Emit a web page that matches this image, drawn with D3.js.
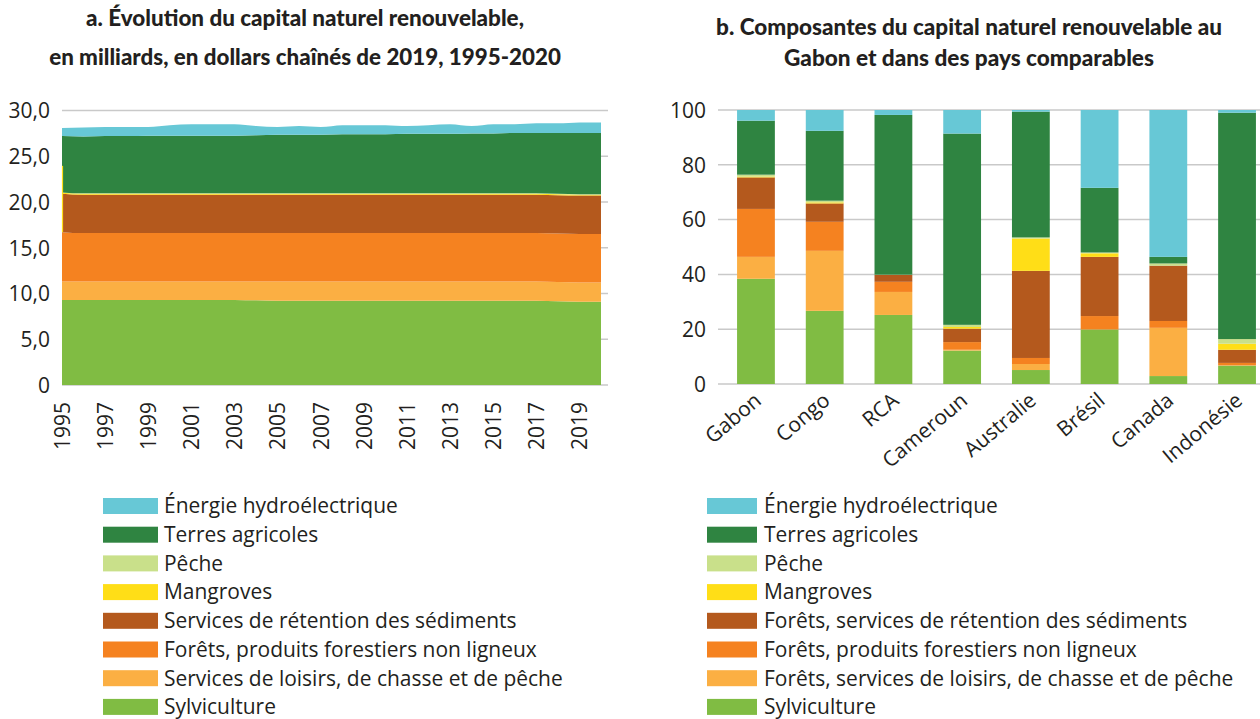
<!DOCTYPE html>
<html><head><meta charset="utf-8">
<script src="https://cdn.jsdelivr.net/npm/d3@7"></script>
<style>
html,body{margin:0;padding:0;background:#fff;}
svg{display:block;}
text{fill:#231f20;}
</style></head>
<body>
<svg id="c" width="1260" height="719"></svg>
<script>
// ---------- DATA ----------
const seriesNames = ["Sylviculture","Loisirs","PFNL","Sediments","Mangroves","Peche","Agricoles","Hydro"];
const seriesColors = ["#80bc43","#fbaf43","#f58220","#b4591d","#ffde17","#c9e08a","#2f8441","#67c8d6"];

const legendA = ["Énergie hydroélectrique","Terres agricoles","Pêche","Mangroves","Services de rétention des sédiments","Forêts, produits forestiers non ligneux","Services de loisirs, de chasse et de pêche","Sylviculture"];
const legendB = ["Énergie hydroélectrique","Terres agricoles","Pêche","Mangroves","Forêts, services de rétention des sédiments","Forêts, produits forestiers non ligneux","Forêts, services de loisirs, de chasse et de pêche","Sylviculture"];

const years = [1995,1996,1997,1998,1999,2000,2001,2002,2003,2004,2005,2006,2007,2008,2009,2010,2011,2012,2013,2014,2015,2016,2017,2018,2019,2020];
const yearTicks = [1995,1997,1999,2001,2003,2005,2007,2009,2011,2013,2015,2017,2019];
const aSylv  = [9.3,9.3,9.3,9.3,9.3,9.3,9.3,9.3,9.3,9.25,9.2,9.2,9.2,9.2,9.2,9.2,9.2,9.2,9.2,9.2,9.2,9.2,9.2,9.15,9.1,9.1];
const aLois  = [2.0,2.0,2.0,2.0,2.0,2.0,2.0,2.0,2.0,2.05,2.1,2.1,2.1,2.1,2.1,2.1,2.1,2.1,2.1,2.1,2.1,2.1,2.1,2.1,2.1,2.1];
const aPfnl  = [5.4,5.3,5.3,5.3,5.3,5.3,5.3,5.3,5.3,5.3,5.3,5.3,5.3,5.3,5.3,5.3,5.3,5.3,5.3,5.3,5.3,5.3,5.3,5.3,5.3,5.3];
const aSed   = [4.2,4.2,4.2,4.2,4.2,4.2,4.2,4.2,4.2,4.2,4.2,4.2,4.2,4.2,4.2,4.2,4.2,4.2,4.2,4.2,4.2,4.2,4.2,4.2,4.2,4.2];
const aMang  = [0.1,0.1,0.1,0.1,0.1,0.1,0.1,0.1,0.1,0.1,0.1,0.1,0.1,0.1,0.1,0.1,0.1,0.1,0.1,0.1,0.1,0.1,0.1,0.1,0.1,0.1];
const aPeche = [0.05,0.05,0.05,0.05,0.05,0.05,0.05,0.05,0.05,0.05,0.05,0.05,0.05,0.05,0.05,0.05,0.05,0.05,0.05,0.05,0.05,0.05,0.05,0.05,0.05,0.05];
const aAgri  = [6.15,6.2,6.25,6.25,6.3,6.3,6.3,6.3,6.3,6.35,6.4,6.4,6.4,6.45,6.45,6.45,6.5,6.5,6.5,6.55,6.55,6.6,6.6,6.65,6.7,6.7];
const aHydro = [0.9,1.0,1.0,1.0,0.95,1.15,1.25,1.25,1.25,1.0,0.85,0.95,0.85,1.0,1.0,1.0,0.85,0.95,1.05,0.8,1.0,0.95,1.05,1.05,1.15,1.15];
const aTicks = [0,5,10,15,20,25,30];

const countries = ["Gabon","Congo","RCA","Cameroun","Australie","Brésil","Canada","Indonésie"];
const bSylv  = [38.4,26.7,25.2,12.2,5.1,19.9,2.9,6.7];
const bLois  = [8.0,21.9,8.4,0.3,2.2,0.0,17.6,0.1];
const bPfnl  = [17.5,10.6,3.7,2.8,2.2,4.9,2.5,0.9];
const bSed   = [11.5,6.7,2.5,4.9,31.8,21.6,20.2,4.8];
const bMang  = [0.3,0.4,0.0,0.6,11.8,1.3,0.0,2.2];
const bPeche = [0.7,0.6,0.1,0.8,0.4,0.3,0.8,1.7];
const bAgri  = [19.7,25.5,58.3,69.8,45.9,23.6,2.4,82.6];
const bHydro = [3.9,7.6,1.8,8.6,0.6,28.4,53.6,1.0];
const bTicks = [0,20,40,60,80,100];

// ---------- DRAW ----------
const svg = d3.select("#c");
const bodyFont = "'Open Sans', 'Noto Sans', sans-serif";
const titleFont = "Lato, 'Open Sans', sans-serif";
const gridCol = "#c9c9c9";

function fitFont(sel, target){
  const n = sel.node(); const w = n.getComputedTextLength();
  const fs = parseFloat(sel.attr("font-size"));
  sel.attr("font-size", fs*target/w);
}

// Titles
function title(lines, cx, ys, widths){
  lines.forEach((t,i)=>{
    const s = svg.append("text").attr("x",cx).attr("y",ys[i]).attr("text-anchor","middle")
      .attr("font-family",titleFont).attr("font-weight",900).attr("font-size",20).text(t);
    fitFont(s, widths[i]);
  });
}
title(["a. Évolution du capital naturel renouvelable,","en milliards, en dollars chaînés de 2019, 1995-2020"],305,[26,65],[438,512]);
title(["b. Composantes du capital naturel renouvelable au","Gabon et dans des pays comparables"],969,[35,66],[506,370]);

// ----- Chart a -----
const xa = d3.scaleLinear().domain([1995,2020]).range([62,601]);
const ya = d3.scaleLinear().domain([0,30]).range([385,110.5]);
const aSeries = [aSylv,aLois,aPfnl,aSed,aMang,aPeche,aAgri,aHydro];
const aRows = years.map((y,i)=>{const o={year:y}; seriesNames.forEach((n,k)=>o[n]=aSeries[k][i]); return o;});
const aStack = d3.stack().keys(seriesNames)(aRows);

const ga = svg.append("g");
ga.append("g").selectAll("line").data(aTicks).join("line")
  .attr("x1",62).attr("x2",608).attr("y1",d=>ya(d)).attr("y2",d=>ya(d))
  .attr("stroke",gridCol).attr("stroke-width",1.5);
const area = d3.area().x(d=>xa(d.data.year)).y0(d=>ya(d[0])).y1(d=>ya(d[1])).curve(d3.curveMonotoneX);
ga.append("g").selectAll("path").data(aStack).join("path")
  .attr("d",area).attr("fill",(d,i)=>seriesColors[i]);
// yellow edge at left (mangrove layer marker)
ga.append("line").attr("x1",xa(1995)+0.5).attr("x2",xa(1995)+0.5)
  .attr("y1",ya(aStack[2][0][1])).attr("y2",ya(aStack[6][0][0]+2.9))
  .attr("stroke",seriesColors[4]).attr("stroke-width",1.2);

const yAxA = d3.axisLeft(ya).tickValues(aTicks).tickSize(0).tickPadding(0)
  .tickFormat(d=> d===0 ? "0" : d3.format(".1f")(d).replace(".",","));
const gya = svg.append("g").attr("transform","translate(50,0)").call(yAxA);
gya.select(".domain").remove();
gya.selectAll("text").attr("font-family",bodyFont).attr("font-size",19.5).attr("fill","#231f20").attr("dy","0.35em");

const xAxA = d3.axisBottom(xa).tickValues(yearTicks).tickSize(0).tickFormat(d3.format("d"));
const gxa = svg.append("g").attr("transform","translate(0,396)").call(xAxA);
gxa.select(".domain").remove();
gxa.selectAll("text").attr("font-family",bodyFont).attr("font-size",19.5).attr("fill","#231f20")
  .attr("transform","rotate(-90)").attr("text-anchor","end").attr("x",-6).attr("y",0).attr("dy","0.35em");

// ----- Chart b -----
const xb = d3.scaleBand().domain(countries).range([721.6,1271.4]).paddingInner(0.45).paddingOuter(0.225);
const yb = d3.scaleLinear().domain([0,100]).range([384,110]);
const bSeries = [bSylv,bLois,bPfnl,bSed,bMang,bPeche,bAgri,bHydro];
const bRows = countries.map((c,i)=>{const o={country:c}; seriesNames.forEach((n,k)=>o[n]=bSeries[k][i]); return o;});
const bStack = d3.stack().keys(seriesNames)(bRows);

const gb = svg.append("g");
gb.append("g").selectAll("line").data(bTicks).join("line")
  .attr("x1",718).attr("x2",1260).attr("y1",d=>yb(d)).attr("y2",d=>yb(d))
  .attr("stroke",gridCol).attr("stroke-width",1.5);
gb.append("g").selectAll("g").data(bStack).join("g").attr("fill",(d,i)=>seriesColors[i])
  .selectAll("rect").data(d=>d).join("rect")
  .attr("x",d=>xb(d.data.country)).attr("width",xb.bandwidth())
  .attr("y",d=>yb(d[1])).attr("height",d=>Math.max(0,yb(d[0])-yb(d[1])));

const yAxB = d3.axisLeft(yb).tickValues(bTicks).tickSize(0).tickPadding(0);
const gyb = svg.append("g").attr("transform","translate(706,0)").call(yAxB);
gyb.select(".domain").remove();
gyb.selectAll("text").attr("font-family",bodyFont).attr("font-size",19.5).attr("fill","#231f20").attr("dy","0.35em");

const xAxB = d3.axisBottom(xb).tickSize(0);
const gxb = svg.append("g").attr("transform","translate(0,384)").call(xAxB);
gxb.select(".domain").remove();
gxb.selectAll("text").attr("font-family",bodyFont).attr("font-size",19.5).attr("fill","#231f20")
  .attr("text-anchor","end").attr("x",0).attr("y",0).attr("dy","0.35em")
  .attr("transform","translate(2,13) rotate(-40)");

// ----- Legends -----
function legend(labels, sx, sw, tx){
  const cols = seriesColors.slice().reverse();
  const g = svg.append("g");
  labels.forEach((t,i)=>{
    const cy = 506 + i*28.7;
    g.append("rect").attr("x",sx).attr("y",cy-8).attr("width",sw).attr("height",16).attr("fill",cols[i]);
    g.append("text").attr("x",tx).attr("y",cy).attr("dy","0.35em")
      .attr("font-family",bodyFont).attr("font-size",19.5).text(t);
  });
  return g;
}
const la = legend(legendA,103,55,164);
const lb = legend(legendB,707,50,764);
// fit legend fonts to reference widths
(function(){
  const t = la.selectAll("text").filter((d,i,n)=>n[i].textContent.startsWith("Services de loisirs"));
  const w = t.node().getComputedTextLength();
  const fs = 19.5*399/w;
  la.selectAll("text").attr("font-size",fs);
  lb.selectAll("text").attr("font-size",fs);
  gya.selectAll("text").attr("font-size",fs);
  gxa.selectAll("text").attr("font-size",fs);
  gyb.selectAll("text").attr("font-size",fs);
  gxb.selectAll("text").attr("font-size",fs);
})();
</script>
</body></html>
